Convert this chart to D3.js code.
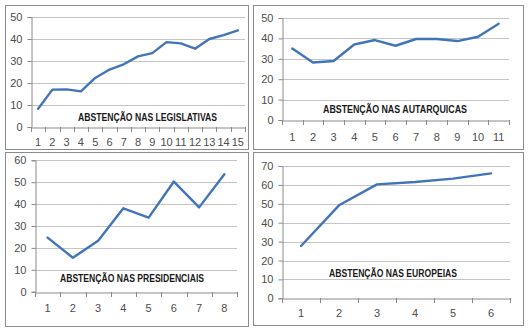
<!DOCTYPE html>
<html><head><meta charset="utf-8">
<script src="https://cdn.jsdelivr.net/npm/d3@7"></script>
<style>body{margin:0;background:#fff}svg{display:block}</style>
</head><body>
<svg id="c" width="530" height="335"></svg>
<script>
const legislativas = [8.3, 17.0, 17.1, 16.2, 22.3, 26.1, 28.5, 32.1, 33.6, 38.6, 38.0, 35.6, 40.0, 41.8, 43.9];
const autarquicas = [35.1, 28.2, 28.9, 37.0, 39.2, 36.4, 39.7, 39.7, 38.7, 40.8, 47.2];
const presidenciais = [24.7, 15.5, 23.3, 38.1, 33.8, 50.3, 38.5, 53.6];
const europeias = [27.7, 49.2, 60.3, 61.5, 63.3, 66.1];
const titles = ["ABSTENÇÃO NAS LEGISLATIVAS", "ABSTENÇÃO NAS AUTARQUICAS", "ABSTENÇÃO NAS PRESIDENCIAIS", "ABSTENÇÃO NAS EUROPEIAS"];
const yTicks1 = [0, 10, 20, 30, 40, 50];
const yTicks2 = [0, 10, 20, 30, 40, 50];
const yTicks3 = [0, 10, 20, 30, 40, 50, 60];
const yTicks4 = [0, 10, 20, 30, 40, 50, 60, 70];

const svg = d3.select("#c");
const panels = [
  {data: legislativas, ticks: yTicks1, title: titles[0], box:[5,5,243,144], x0:31, x1:245, y0:127, y1:17, lx:78, lw:139, ly:117, labY:142},
  {data: autarquicas, ticks: yTicks2, title: titles[1], box:[253,5,270,144], x0:282, x1:509, y0:120, y1:18, lx:323, lw:144, ly:109, labY:137},
  {data: presidenciais, ticks: yTicks3, title: titles[2], box:[5,152,243,174], x0:35, x1:237, y0:291.7, y1:160.3, lx:60, lw:144, ly:278, labY:307},
  {data: europeias, ticks: yTicks4, title: titles[3], box:[253,152,270,173], x0:282, x1:510, y0:298.3, y1:166, lx:329, lw:128, ly:273, labY:313}
];
const font = "'Liberation Sans', Arial, sans-serif";
panels.forEach(p => {
  const g = svg.append("g");
  g.append("rect").attr("x", p.box[0]+0.5).attr("y", p.box[1]+0.5).attr("width", p.box[2]).attr("height", p.box[3])
    .attr("fill", "#fff").attr("stroke", "#8c8c8c").attr("stroke-width", 1);
  const cats = p.data.map((d,i) => String(i+1));
  const x = d3.scaleBand().domain(cats).range([p.x0, p.x1]);
  const ymax = p.ticks[p.ticks.length-1];
  const y = d3.scaleLinear().domain([0, ymax]).range([p.y0, p.y1]);
  g.selectAll(".grid").data(p.ticks.slice(1)).join("line")
    .attr("x1", p.x0).attr("x2", p.x1)
    .attr("y1", d => Math.round(y(d))+0.5).attr("y2", d => Math.round(y(d))+0.5)
    .attr("stroke", "#c4c4c4").attr("stroke-width", 1.2);
  const ya = g.append("g").attr("transform", `translate(${Math.round(p.x0)+0.5},0)`)
    .call(d3.axisLeft(y).tickValues(p.ticks).tickSize(4).tickPadding(5).tickFormat(d3.format("d")));
  ya.select(".domain").attr("stroke", "#8a8a8a");
  ya.selectAll(".tick line").attr("stroke", "#8a8a8a");
  ya.selectAll("text").attr("font-family", font).attr("font-size", 11).attr("fill", "#4d4d4d");
  const xa = g.append("g").attr("transform", `translate(0,${Math.round(p.y0)+0.5})`)
    .call(d3.axisBottom(x).tickSize(0).tickPadding(p.labY - p.y0 - 4));
  xa.select(".domain").attr("stroke", "#8a8a8a");
  xa.selectAll("text").attr("font-family", font).attr("font-size", 11).attr("fill", "#4d4d4d");
  const bounds = d3.range(cats.length+1).map(i => p.x0 + i*x.step());
  g.selectAll(".xt").data(bounds).join("line")
    .attr("x1", d => Math.round(d)+0.5).attr("x2", d => Math.round(d)+0.5)
    .attr("y1", Math.round(p.y0)).attr("y2", Math.round(p.y0)+5)
    .attr("stroke", "#8a8a8a");
  const line = d3.line().x((d,i) => x(String(i+1)) + x.bandwidth()/2).y(d => y(d));
  g.append("path").datum(p.data).attr("d", line).attr("fill", "none")
    .attr("stroke", "#4274b8").attr("stroke-width", 2.4).attr("stroke-linejoin", "round").attr("stroke-linecap", "round");
  g.append("text").attr("x", p.lx).attr("y", p.ly + 4).attr("font-family", font)
    .attr("font-weight", "bold").attr("font-size", 10.5).attr("fill", "#1a1a1a")
    .attr("textLength", p.lw).attr("lengthAdjust", "spacingAndGlyphs").text(p.title);
});
</script>
</body></html>
